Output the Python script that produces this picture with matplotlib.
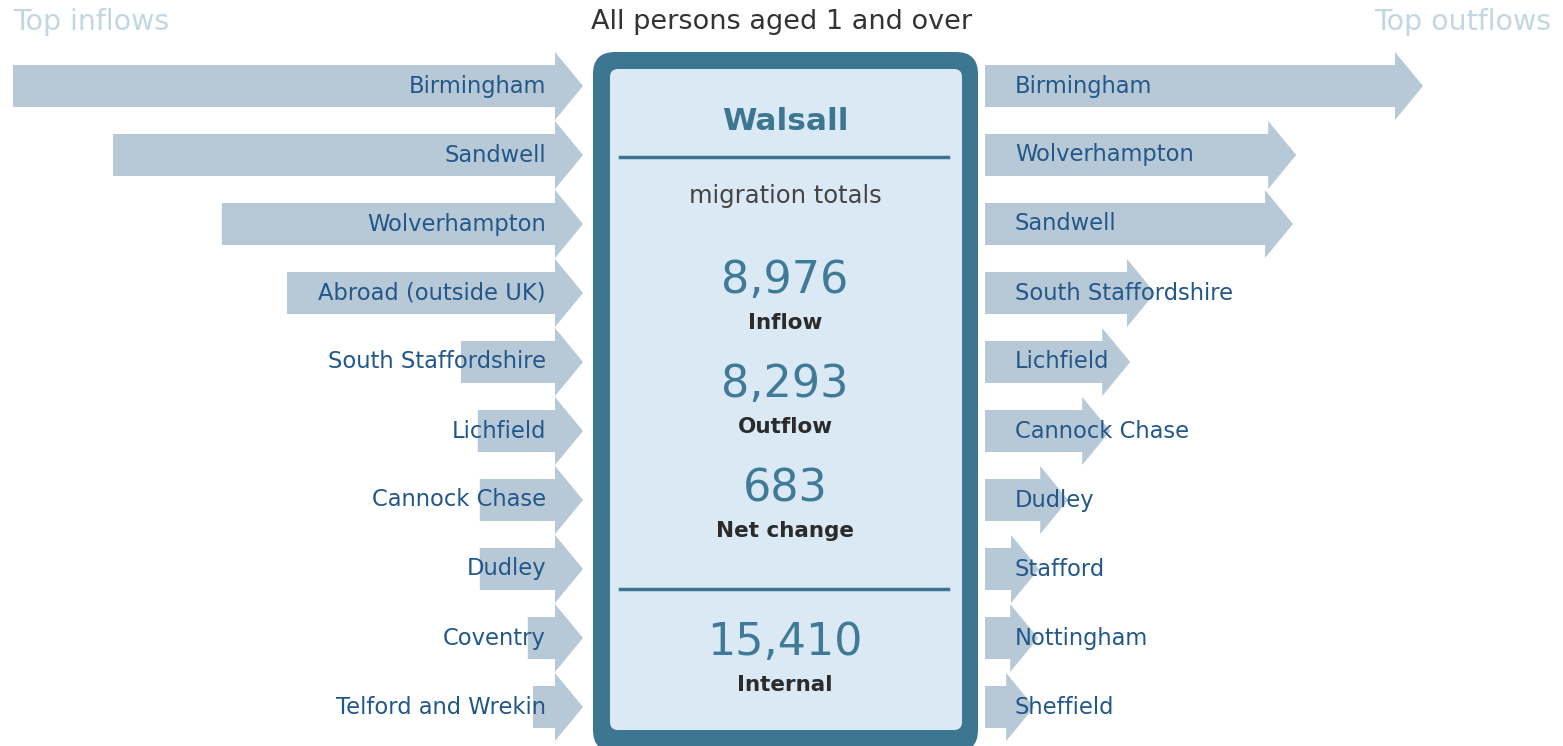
import matplotlib.pyplot as plt
from matplotlib.patches import FancyBboxPatch, Polygon

# Walsall migration, all persons aged 1 and over
inflow_places = ["Birmingham", "Sandwell", "Wolverhampton", "Abroad (outside UK)",
                 "South Staffordshire", "Lichfield", "Cannock Chase", "Dudley",
                 "Coventry", "Telford and Wrekin"]
inflow_values = [1355, 1105, 833, 670, 235, 193, 188, 188, 68, 55]

outflow_places = ["Birmingham", "Wolverhampton", "Sandwell", "South Staffordshire",
                  "Lichfield", "Cannock Chase", "Dudley", "Stafford",
                  "Nottingham", "Sheffield"]
outflow_values = [1025, 708, 700, 355, 293, 243, 138, 65, 63, 53]

totals_labels = ["Inflow", "Outflow", "Net change"]
totals_values = [8976, 8293, 683]
internal_value = 15410

ARROW = "#b7c9d6"
DARK = "#3d7690"
PANEL = "#dae9f4"
LABEL = "#22578a"
NUMBER = "#3f7a98"

PX_PER_PERSON = 0.4
ROW0, ROW_STEP = 86, 69
SHAFT_H, HEAD_H, HEAD_L = 21, 34, 28


def arrow(ax, x0, x1, y):
    """Right-pointing block arrow whose shaft runs from x0 to x1."""
    pts = [(x0, y - SHAFT_H), (x1, y - SHAFT_H), (x1, y - HEAD_H),
           (x1 + HEAD_L, y), (x1, y + HEAD_H), (x1, y + SHAFT_H), (x0, y + SHAFT_H)]
    ax.add_patch(Polygon(pts, closed=True, facecolor=ARROW, edgecolor="none", zorder=1))


fig = plt.figure(figsize=(15.63, 7.46), dpi=100)
ax = fig.add_axes([0, 0, 1, 1])
ax.set_xlim(0, 1563)
ax.set_ylim(746, 0)
ax.axis("off")

# inflows: arrows end at the panel, length by value
left_end = 555
for i, (name, val) in enumerate(zip(inflow_places, inflow_values)):
    y = ROW0 + i * ROW_STEP
    arrow(ax, left_end - val * PX_PER_PERSON, left_end, y)
    ax.text(546, y, name, ha="right", va="center", fontsize=16.3, color=LABEL, zorder=3)

# outflows: arrows start at the panel
right_start = 985
for i, (name, val) in enumerate(zip(outflow_places, outflow_values)):
    y = ROW0 + i * ROW_STEP
    arrow(ax, right_start, right_start + val * PX_PER_PERSON, y)
    ax.text(1015, y, name, ha="left", va="center", fontsize=16.3, color=LABEL, zorder=3)

# central panel
ax.add_patch(FancyBboxPatch((593 + 22, 52 + 22), 385 - 44, 700 - 44,
                            boxstyle="round,pad=22", facecolor=DARK, edgecolor="none", zorder=2))
ax.add_patch(FancyBboxPatch((610 + 8, 69 + 8), 352 - 16, 661 - 16,
                            boxstyle="round,pad=8", facecolor=PANEL, edgecolor="none", zorder=2))
ax.plot([620, 948], [157, 157], color=DARK, lw=2.5, zorder=3)
ax.plot([620, 948], [589, 589], color=DARK, lw=2.5, zorder=3)

cx = 785
ax.text(cx, 122, "Walsall", ha="center", va="center", fontsize=22.5,
        fontweight="bold", color=DARK, zorder=4)
ax.text(cx, 196, "migration totals", ha="center", va="center", fontsize=17.5,
        color="#444444", zorder=4)

num_y = [281, 385, 489]
for y, lab, val in zip(num_y, totals_labels, totals_values):
    ax.text(cx, y, f"{val:,}", ha="center", va="center", fontsize=32, color=NUMBER, zorder=4)
    ax.text(cx, y + 42, lab, ha="center", va="center", fontsize=15.5,
            fontweight="bold", color="#2b2b2b", zorder=4)

ax.text(cx, 643, f"{internal_value:,}", ha="center", va="center", fontsize=32,
        color=NUMBER, zorder=4)
ax.text(cx, 685, "Internal", ha="center", va="center", fontsize=15.5,
        fontweight="bold", color="#2b2b2b", zorder=4)

# headers
ax.text(13, 22, "Top inflows", ha="left", va="center", fontsize=20.5, color="#c3d7e3")
ax.text(1551, 22, "Top outflows", ha="right", va="center", fontsize=20.5, color="#c3d7e3")
ax.text(782, 22, "All persons aged 1 and over", ha="center", va="center",
        fontsize=19.5, color="#333333")

fig.savefig("out.png", dpi=100)
